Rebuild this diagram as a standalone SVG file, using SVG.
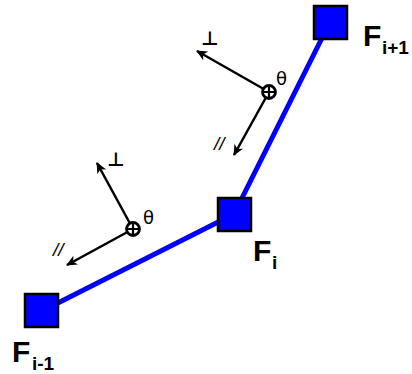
<svg xmlns="http://www.w3.org/2000/svg" width="412" height="374" viewBox="0 0 412 374">
<style>
.link{stroke:#0000ff;stroke-width:5;fill:none}
.node{fill:#0000ff;stroke:#000;stroke-width:2.5}
.F{font-family:"Liberation Sans",Arial,sans-serif;font-weight:bold;font-size:30px;fill:#000}
.sub{font-family:"Liberation Sans",Arial,sans-serif;font-weight:bold;font-size:19px;fill:#000}
.vec{stroke:#000;stroke-width:2.5;fill:none;marker-end:url(#ah)}
.lab{font-family:"DejaVu Sans",sans-serif;font-size:19px;fill:#000}
.th{font-family:"DejaVu Sans",sans-serif;font-size:18px;fill:#000}
.par{font-family:"Liberation Sans",Arial,sans-serif;font-style:italic;font-size:19px;fill:#000}
.circ{fill:#fff;stroke:#000;stroke-width:2.8}
</style>
<defs>
<marker id="ah" markerWidth="12" markerHeight="12" refX="10" refY="5" orient="auto" markerUnits="userSpaceOnUse">
<path d="M0,0 L11,5 L0,10 L3,5 Z" fill="#000"/>
</marker>
</defs>
<g id="connectors">
<line class="link" x1="42" y1="311" x2="234" y2="214"/>
<line class="link" x1="234" y1="214" x2="330" y2="22"/>
</g>
<g id="node-Fi-1">
<rect class="node" x="25" y="294" width="33" height="33"/>
<text class="F" x="12" y="362">F</text><text class="sub" x="32" y="370">i-1</text>
</g>
<g id="node-Fi">
<rect class="node" x="218" y="198" width="33" height="33"/>
<text class="F" x="253" y="261">F</text><text class="sub" x="272" y="269">i</text>
</g>
<g id="node-Fi+1">
<rect class="node" x="314" y="6" width="33" height="33"/>
<text class="F" x="363" y="46">F</text><text class="sub" x="382" y="54">i+1</text>
</g>
<g id="frame-upper">
<line class="vec" x1="269" y1="92" x2="197" y2="51"/>
<line class="vec" x1="269" y1="92" x2="234" y2="155"/>
<circle class="circ" cx="269" cy="92" r="6.5"/>
<path d="M262.5,92 H275.5 M269,85.5 V98.5" stroke="#000" stroke-width="2.2"/>
<text class="lab" x="201" y="45" font-weight="bold">⊥</text>
<text class="th" x="276" y="85">θ</text>
<text class="par" x="214" y="150">//</text>
</g>
<g id="frame-lower">
<line class="vec" x1="133" y1="229" x2="97" y2="163"/>
<line class="vec" x1="133" y1="229" x2="67" y2="265"/>
<circle class="circ" cx="133" cy="229" r="6.5"/>
<path d="M126.5,229 H139.5 M133,222.5 V235.5" stroke="#000" stroke-width="2.2"/>
<text class="lab" x="107" y="166" font-weight="bold">⊥</text>
<text class="th" x="143" y="224">θ</text>
<text class="par" x="53" y="256">//</text>
</g>
</svg>
